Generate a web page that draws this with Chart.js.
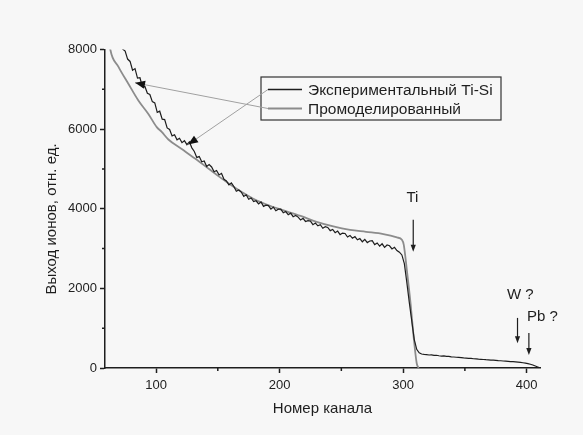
<!DOCTYPE html>
<html>
<head>
<meta charset="utf-8">
<title>Выход ионов</title>
<script src="https://cdn.jsdelivr.net/npm/chart.js"></script>
<style>
  html, body { margin:0; padding:0; background:#f7f7f7; }
  canvas { display:block; }
</style>
</head>
<body>
<canvas id="chart" width="583" height="435"></canvas>
<script>
// ---- data ----
// experimental spectrum, one value every 2 channels starting at channel 71
const expStart = 71;
const expStep = 2;
const expYield = [
  8150, 8010, 7960, 7760, 7700, 7480, 7520, 7280, 7290, 7060,
  7070, 6900, 6870, 6690, 6660, 6420, 6450, 6250, 6240, 6030,
  5990, 5830, 5860, 5730, 5770, 5660, 5710, 5610, 5680, 5530,
  5440, 5290, 5310, 5180, 5200, 5060, 5110, 5050, 4930, 4960,
  4850, 4890, 4740, 4700, 4600, 4650, 4560, 4440, 4470, 4420,
  4310, 4350, 4240, 4270, 4180, 4200, 4120, 4170, 4060, 4090,
  4080, 3990, 4040, 3950, 3990, 3990, 3900, 3930, 3850, 3890,
  3800, 3830, 3790, 3720, 3760, 3680, 3700, 3690, 3600, 3640,
  3570, 3600, 3510, 3550, 3530, 3450, 3480, 3400, 3440, 3350,
  3390, 3380, 3290, 3330, 3260, 3300, 3220, 3250, 3170, 3230,
  3150, 3190, 3200, 3100, 3140, 3060, 3120, 3030, 3090, 3070,
  2990, 3030, 2950, 2910, 2840, 2620, 2150, 1650, 1180, 720,
  470, 380, 352, 340, 336, 326, 330, 316, 320, 308,
  300, 302, 290, 292, 280, 276, 270, 266, 262, 252,
  250, 244, 240, 232, 230, 222, 218, 214, 208, 204,
  198, 196, 190, 184, 182, 176, 172, 168, 162, 158,
  152, 146, 140, 132, 122, 110, 94, 74, 50, 26,
  0
];

// simulated spectrum
const simChannel = [62, 63, 69.5, 77.6, 85.7, 93.8, 100.6, 104.6, 110, 120.8,
  131.6, 142.4, 150.5, 160, 170, 180, 190, 200, 217, 230,
  243.5, 257, 270, 284, 295, 299, 300.5, 303, 306, 308.5, 311, 312.5];
const simYield = [8250, 8000, 7570, 7140, 6720, 6380, 6050, 5930, 5740, 5500,
  5260, 5010, 4820, 4610, 4410, 4230, 4100, 3990, 3820, 3670,
  3555, 3470, 3420, 3364, 3279, 3220, 3100, 2466, 1628, 790, 120, 0];

const seriesNames = ['Экспериментальный Ti-Si', 'Промоделированный'];

const xMajor = [100, 200, 300, 400];
const xMinor = [150, 250, 350];
const yMajor = [0, 2000, 4000, 6000, 8000];
const yMinor = [1000, 3000, 5000, 7000];

// peak marks: label, channel of the arrow
const peakLabels = ['Ti', 'W ?', 'Pb ?'];
const peakChannels = [308.2, 392.6, 401.8];

const expData = expYield.map((v, i) => ({ x: expStart + expStep * i, y: v }));
const simData = simChannel.map((c, i) => ({ x: c, y: simYield[i] }));

const INK = '#1e1e1e';
const GREY = '#8c8c8c';
const FONT = '"Liberation Sans", Arial, sans-serif';

function arrowHead(ctx, x, y, angle, len, half) {
  ctx.save();
  ctx.translate(x, y);
  ctx.rotate(angle);
  ctx.beginPath();
  ctx.moveTo(0, 0);
  ctx.lineTo(-len, -half);
  ctx.lineTo(-len, half);
  ctx.closePath();
  ctx.fill();
  ctx.restore();
}

const decorations = {
  id: 'decorations',
  afterDraw(chart) {
    const { ctx, chartArea: a, scales: { x, y } } = chart;
    ctx.save();

    // minor ticks
    ctx.strokeStyle = INK;
    ctx.lineWidth = 1.5;
    ctx.beginPath();
    xMinor.forEach(v => {
      const px = x.getPixelForValue(v);
      ctx.moveTo(px, a.bottom);
      ctx.lineTo(px, a.bottom + 3);
    });
    yMinor.forEach(v => {
      const py = y.getPixelForValue(v);
      ctx.moveTo(a.left, py);
      ctx.lineTo(a.left - 3, py);
    });
    ctx.stroke();

    // y axis title
    ctx.fillStyle = INK;
    ctx.font = '15px ' + FONT;
    ctx.textAlign = 'center';
    ctx.textBaseline = 'middle';
    ctx.save();
    ctx.translate(52, 219);
    ctx.rotate(-Math.PI / 2);
    ctx.fillText('Выход ионов, отн. ед.', 0, 0);
    ctx.restore();

    // legend box
    const box = { l: 261, t: 77, r: 501, b: 120 };
    ctx.strokeStyle = '#333';
    ctx.lineWidth = 1.2;
    ctx.strokeRect(box.l, box.t, box.r - box.l, box.b - box.t);
    const rows = [89.5, 108.5];
    const colors = [INK, GREY];
    const widths = [1.3, 1.8];
    ctx.font = '15.5px ' + FONT;
    rows.forEach((ry, i) => {
      ctx.strokeStyle = colors[i];
      ctx.lineWidth = widths[i];
      ctx.beginPath();
      ctx.moveTo(268, ry);
      ctx.lineTo(302, ry);
      ctx.stroke();
      ctx.fillStyle = INK;
      ctx.textAlign = 'left';
      ctx.fillText(seriesNames[i], 308, ry + 1);
    });
    ctx.font = '15px ' + FONT;

    // pointer lines from the legend to the curves
    const pointers = [
      { from: [268, rows[0]], to: [125.9, 5611] },
      { from: [268, rows[1]], to: [83, 7163] }
    ];
    pointers.forEach(p => {
      const tx = x.getPixelForValue(p.to[0]);
      const ty = y.getPixelForValue(p.to[1]);
      ctx.strokeStyle = '#a0a0a0';
      ctx.lineWidth = 1;
      ctx.beginPath();
      ctx.moveTo(p.from[0], p.from[1]);
      ctx.lineTo(tx, ty);
      ctx.stroke();
      ctx.fillStyle = '#111';
      arrowHead(ctx, tx, ty, Math.atan2(ty - p.from[1], tx - p.from[0]), 10, 4);
    });

    // peak arrows and labels
    const marks = [
      { text: [307.5, 4277], align: 'center', from: 3724, to: 2919 },
      { text: [384, 1837], align: 'left', from: 1258, to: 621 },
      { text: [400.2, 1276], align: 'left', from: 880, to: 327 }
    ];
    marks.forEach((m, i) => {
      const ax = x.getPixelForValue(peakChannels[i]);
      const y0 = y.getPixelForValue(m.from);
      const y1 = y.getPixelForValue(m.to);
      ctx.strokeStyle = INK;
      ctx.lineWidth = 1.2;
      ctx.beginPath();
      ctx.moveTo(ax, y0);
      ctx.lineTo(ax, y1 - 5);
      ctx.stroke();
      ctx.fillStyle = INK;
      arrowHead(ctx, ax, y1, Math.PI / 2, 7, 2.6);
      ctx.textAlign = m.align;
      ctx.fillText(peakLabels[i], x.getPixelForValue(m.text[0]), y.getPixelForValue(m.text[1]));
    });

    ctx.restore();
  }
};

const isIn = (list, v) => list.some(t => Math.abs(t - v) < 1e-6);

new Chart(document.getElementById('chart'), {
  type: 'line',
  data: {
    datasets: [
      {
        label: seriesNames[0],
        data: expData,
        borderColor: INK,
        borderWidth: 1.2,
        pointRadius: 0,
        tension: 0,
        order: 0
      },
      {
        label: seriesNames[1],
        data: simData,
        borderColor: GREY,
        borderWidth: 1.8,
        pointRadius: 0,
        cubicInterpolationMode: 'monotone',
        order: 1
      }
    ]
  },
  options: {
    responsive: false,
    animation: false,
    events: [],
    layout: { padding: { left: 0, top: 49.5, right: 43, bottom: 0 } },
    plugins: { legend: { display: false }, tooltip: { enabled: false } },
    scales: {
      x: {
        type: 'linear',
        min: 58.7,
        max: 410.8,
        afterBuildTicks: s => { s.ticks = xMajor.map(v => ({ value: v })); },
        afterFit: s => { s.height = 67; },
        border: { display: true, color: INK, width: 1.5 },
        grid: {
          drawOnChartArea: false,
          drawTicks: true,
          tickLength: 5,
          tickWidth: 1.5,
          tickColor: INK
        },
        ticks: {
          autoSkip: false,
          maxRotation: 0,
          padding: 5,
          color: '#222',
          font: { family: FONT, size: 13 },
          callback: v => String(v)
        },
        title: {
          display: true,
          text: 'Номер канала',
          color: INK,
          font: { family: FONT, size: 15 },
          padding: { top: 0, bottom: 17 }
        }
      },
      y: {
        type: 'linear',
        min: 0,
        max: 8000,
        afterBuildTicks: s => { s.ticks = yMajor.map(v => ({ value: v })); },
        afterFit: s => { s.width = 105; },
        border: { display: true, color: INK, width: 1.5 },
        grid: {
          drawOnChartArea: false,
          drawTicks: true,
          tickLength: 5,
          tickWidth: 1.5,
          tickColor: INK
        },
        ticks: {
          autoSkip: false,
          padding: 3,
          color: '#222',
          font: { family: FONT, size: 13 },
          callback: v => String(v)
        }
      }
    }
  },
  plugins: [decorations]
});
</script>
</body>
</html>
